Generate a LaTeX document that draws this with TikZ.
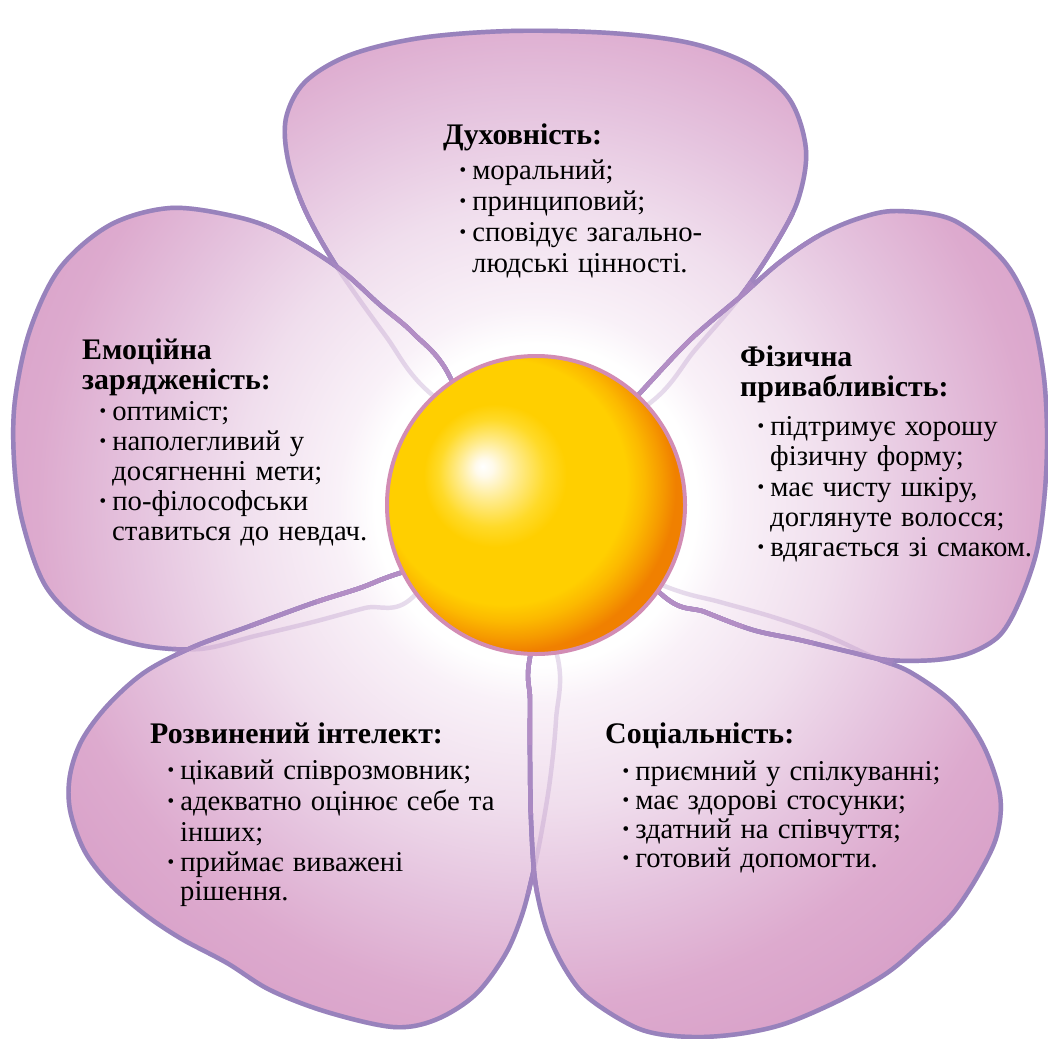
\documentclass[tikz,border=0pt]{standalone}
\usepackage{fontspec}
\setmainfont{Liberation Serif}
\definecolor{pA}{RGB}{249,241,248}
\definecolor{pB}{RGB}{240,222,237}
\definecolor{pC}{RGB}{229,195,222}
\definecolor{pD}{RGB}{221,170,206}
\definecolor{pE}{RGB}{216,160,200}
\definecolor{lcA}{RGB}{182,143,199}
\definecolor{lcB}{RGB}{168,136,194}
\definecolor{lcC}{RGB}{155,130,190}
\definecolor{lcD}{RGB}{143,126,186}
\definecolor{lfaint}{RGB}{175,140,195}
\definecolor{sA}{RGB}{255,250,235}
\definecolor{sB}{RGB}{255,235,140}
\definecolor{sC}{RGB}{255,218,40}
\definecolor{sD}{RGB}{255,207,0}
\definecolor{sE}{RGB}{252,185,0}
\definecolor{sF}{RGB}{246,155,0}
\definecolor{sG}{RGB}{240,128,0}
\definecolor{sunline}{RGB}{210,140,180}
\pgfdeclareradialshading{petalshade}{\pgfpointorigin}{color(0bp)=(white); color(6.7bp)=(white); color(8.3bp)=(pA); color(12.5bp)=(pB); color(16.7bp)=(pC); color(20.8bp)=(pD); color(25bp)=(pE); color(50bp)=(pE)}
\pgfdeclareradialshading{sunshade}{\pgfpoint{-9bp}{6.5bp}}{color(0bp)=(white); color(1.5bp)=(sA); color(5bp)=(sB); color(9bp)=(sC); color(12bp)=(sD); color(20.5bp)=(sD); color(23bp)=(sE); color(25.5bp)=(sF); color(27.5bp)=(sG); color(50bp)=(sG)}
\newcommand\bul{\makebox[12pt][l]{\textbf{·}}}
\newcommand\widespaces{\spaceskip=0.32em plus 0.05em\relax}
\def\pT{plot[smooth cycle,tension=0.55] coordinates{(540,470) (430,393) (385,335) (337,267) (305,210) (288,160) (286,118) (305,82) (350,55) (420,38) (510,31) (610,33) (690,43) (750,65) (790,100) (806,150) (798,200) (775,245) (740,297) (695,350) (650,403)}}
\def\pL{plot[smooth cycle,tension=0.55] coordinates{(490,490) (413,597) (365,608) (313,622) (255,636) (200,649) (140,645) (85,625) (45,585) (22,520) (14,460) (15,400) (30,330) (60,268) (110,225) (170,208) (233,216) (280,232) (337,267) (380,305) (413,333) (450,377)}}
\def\pBL{plot[smooth cycle,tension=0.55] coordinates{(510,540) (557,655) (556,720) (550,780) (541,835) (533,873) (522,915) (505,955) (475,995) (435,1020) (393,1027) (327,1012) (270,990) (227,963) (180,938) (143,913) (108,882) (84,850) (70,810) (70,775) (82,740) (108,705) (145,672) (193,647) (250,626) (313,603) (360,588) (400,573)}}
\def\pBR{plot[smooth cycle,tension=0.55] coordinates{(560,540) (667,587) (720,602) (773,617) (825,635) (873,657) (910,672) (953,703) (983,745) (1000,795) (997,835) (980,872) (953,913) (920,945) (887,973) (840,1000) (787,1023) (745,1033) (703,1037) (665,1035) (637,1028) (605,1010) (580,990) (560,960) (545,925) (535,880) (531,820) (530,760) (530,700) (530,657)}}
\def\pR{plot[smooth cycle,tension=0.55] coordinates{(560,480) (640,393) (690,340) (740,297) (780,262) (820,235) (860,218) (897,211) (953,220) (1003,260) (1030,310) (1043,370) (1047,430) (1045,490) (1037,550) (1020,600) (1000,635) (970,653) (935,660) (887,660) (850,652) (800,640) (753,630) (705,612) (660,593)}}
\newcommand\drawpetal[1]{%
  \begin{scope}\clip #1; \shade[shading=petalshade] (-64,-95) rectangle (1136,1105);\end{scope}
  \draw[pline,lcD] #1;
  \begin{scope}\clip (536,505) circle (390); \draw[pline,lcC] #1; \end{scope}
  \begin{scope}\clip (536,505) circle (310); \draw[pline,lcB] #1; \end{scope}
  \begin{scope}\clip (536,505) circle (240); \draw[pline,lcA] #1; \end{scope}
}
\begin{document}
\begin{tikzpicture}[x=0.03cm,y=-0.03cm,
  pline/.style={line width=3.8pt,line join=round},
  faint/.style={line width=3.8pt,draw=lfaint,draw opacity=0.3},
  body/.style={anchor=base west,inner sep=0pt,font=\fontsize{24.5}{26}\selectfont,execute at begin node=\widespaces},
  head/.style={anchor=base west,inner sep=0pt,font=\bfseries\fontsize{25.5}{27}\selectfont}]
\useasboundingbox (0,0) rectangle (1048,1038);
\fill[white] (0,0) rectangle (1048,1038);
% petals (bottom to top)
\drawpetal{\pT}
\drawpetal{\pL}
\drawpetal{\pBL}
\drawpetal{\pBR}
\drawpetal{\pR}
% hidden outlines seen through the petals
\draw[faint] \pT; \draw[faint] \pL; \draw[faint] \pBL; \draw[faint] \pBR; \draw[faint] \pR;
% centre
\node[circle,inner sep=0pt,minimum size=8.94cm,shading=sunshade,draw=sunline,line width=3.4pt] (sun) at (536,505) {};
% top petal
\node[head] (t0) at (443,144) {Духовність:};
\node[body] (t1) at (458,179) {\bul моральний;};
\node[body] (t2) at (458,210) {\bul принциповий;};
\node[body] (t3) at (458,241) {\bul сповідує загально-};
\node[body] (t4) at (472,272) {людські цінності.};
% left petal
\node[head] (l0) at (82,359) {Емоційна};
\node[head] (l1) at (82,389) {зарядженість:};
\node[body] (l2) at (98,420) {\bul оптиміст;};
\node[body] (l3) at (98,450) {\bul наполегливий у};
\node[body] (l4) at (112,480) {досягненні мети;};
\node[body] (l5) at (98,510) {\bul по-філософськи};
\node[body] (l6) at (112,540) {ставиться до невдач.};
% right petal
\node[head] (r0) at (740,366) {Фізична};
\node[head] (r1) at (740,396) {привабливість:};
\node[body] (r2) at (756,435) {\bul підтримує хорошу};
\node[body] (r3) at (770,465) {фізичну форму;};
\node[body] (r4) at (756,496) {\bul має чисту шкіру,};
\node[body] (r5) at (770,526) {доглянуте волосся;};
\node[body] (r6) at (756,556) {\bul вдягається зі смаком.};
% bottom-left petal
\node[head] (b0) at (150,743) {Розвинений інтелект:};
\node[body] (b1) at (166,779) {\bul цікавий співрозмовник;};
\node[body] (b2) at (166,810) {\bul адекватно оцінює себе та};
\node[body] (b3) at (180,841) {інших;};
\node[body] (b4) at (166,871) {\bul приймає виважені};
\node[body] (b5) at (180,900) {рішення.};
% bottom-right petal
\node[head] (s0) at (605,743) {Соціальність:};
\node[body] (s1) at (621,780) {\bul приємний у спілкуванні;};
\node[body] (s2) at (621,809) {\bul має здорові стосунки;};
\node[body] (s3) at (621,838) {\bul здатний на співчуття;};
\node[body] (s4) at (621,867) {\bul готовий допомогти.};
\end{tikzpicture}
\end{document}
